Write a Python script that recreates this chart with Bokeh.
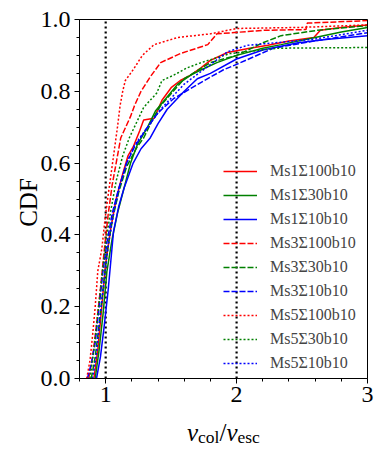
import math
from bokeh.plotting import figure
from bokeh.models import (Label, SingleIntervalTicker, FixedTicker, Range1d, Legend,
                          CustomJSTickFormatter, LinearAxis)
from bokeh.embed import file_html
from bokeh.resources import INLINE

# ---- data ----
names = ["Ms1Σ100b10", "Ms1Σ30b10", "Ms1Σ10b10",
         "Ms3Σ100b10", "Ms3Σ30b10", "Ms3Σ10b10",
         "Ms5Σ100b10", "Ms5Σ30b10", "Ms5Σ10b10"]

ms1_100_x = [0.91, 0.94, 0.97, 1.00, 1.04, 1.08, 1.13, 1.17, 1.21, 1.26, 1.29, 1.37, 1.43, 1.50, 1.57, 1.65, 1.73, 1.80, 1.93, 2.10, 2.24, 2.40, 2.59, 2.64, 2.80, 3.00]
ms1_100_y = [0.00, 0.08, 0.20, 0.32, 0.42, 0.50, 0.57, 0.62, 0.645, 0.69, 0.72, 0.725, 0.775, 0.81, 0.83, 0.845, 0.866, 0.886, 0.908, 0.92, 0.928, 0.94, 0.95, 0.97, 0.978, 0.985]

ms1_30_x = [0.92, 0.95, 0.98, 1.01, 1.05, 1.09, 1.14, 1.19, 1.24, 1.32, 1.38, 1.46, 1.55, 1.65, 1.73, 1.85, 2.00, 2.20, 2.34, 2.60, 2.80, 3.00]
ms1_30_y = [0.00, 0.08, 0.18, 0.30, 0.39, 0.46, 0.53, 0.60, 0.65, 0.70, 0.745, 0.78, 0.82, 0.845, 0.86, 0.88, 0.90, 0.92, 0.93, 0.95, 0.965, 0.978]

ms1_10_x = [0.93, 0.96, 0.99, 1.02, 1.04, 1.06, 1.10, 1.14, 1.21, 1.27, 1.34, 1.40, 1.47, 1.60, 1.70, 1.80, 2.00, 2.20, 2.47, 2.70, 3.00]
ms1_10_y = [0.00, 0.06, 0.15, 0.25, 0.33, 0.41, 0.48, 0.53, 0.60, 0.64, 0.67, 0.71, 0.75, 0.80, 0.835, 0.85, 0.89, 0.915, 0.935, 0.945, 0.955]

ms3_100_x = [0.87, 0.90, 0.93, 0.96, 0.99, 1.02, 1.05, 1.08, 1.115, 1.19, 1.22, 1.27, 1.34, 1.42, 1.57, 1.78, 1.85, 2.21, 2.53, 2.54, 3.00]
ms3_100_y = [0.00, 0.06, 0.15, 0.25, 0.36, 0.46, 0.54, 0.60, 0.67, 0.73, 0.76, 0.80, 0.84, 0.88, 0.905, 0.93, 0.96, 0.97, 0.972, 0.99, 0.997]

ms3_30_x = [0.89, 0.92, 0.95, 0.98, 1.01, 1.05, 1.10, 1.16, 1.24, 1.29, 1.37, 1.42, 1.60, 1.80, 2.00, 2.20, 2.34, 2.62, 3.00]
ms3_30_y = [0.00, 0.06, 0.15, 0.25, 0.35, 0.44, 0.52, 0.59, 0.645, 0.67, 0.73, 0.76, 0.835, 0.88, 0.90, 0.935, 0.955, 0.97, 0.983]

ms3_10_x = [0.86, 0.89, 0.92, 0.95, 0.98, 1.01, 1.05, 1.10, 1.16, 1.22, 1.30, 1.40, 1.52, 1.73, 1.90, 2.00, 2.28, 2.59, 3.00]
ms3_10_y = [0.00, 0.04, 0.10, 0.20, 0.30, 0.38, 0.46, 0.53, 0.60, 0.645, 0.69, 0.74, 0.78, 0.825, 0.86, 0.875, 0.92, 0.94, 0.963]

ms5_100_x = [0.855, 0.88, 0.90, 0.92, 0.94, 0.97, 1.00, 1.03, 1.06, 1.09, 1.11, 1.13, 1.15, 1.21, 1.28, 1.37, 1.55, 1.80, 2.00, 2.50, 3.00]
ms5_100_y = [0.00, 0.05, 0.12, 0.20, 0.30, 0.36, 0.46, 0.54, 0.62, 0.70, 0.76, 0.80, 0.83, 0.86, 0.90, 0.93, 0.95, 0.96, 0.975, 0.978, 0.985]

ms5_30_x = [0.88, 0.91, 0.94, 0.97, 1.00, 1.04, 1.08, 1.13, 1.18, 1.29, 1.39, 1.43, 1.52, 1.62, 1.73, 1.95, 2.31, 3.00]
ms5_30_y = [0.00, 0.08, 0.18, 0.28, 0.38, 0.47, 0.55, 0.62, 0.67, 0.755, 0.795, 0.83, 0.845, 0.865, 0.88, 0.905, 0.92, 0.922]

ms5_10_x = [0.90, 0.93, 0.96, 0.99, 1.02, 1.06, 1.11, 1.16, 1.22, 1.32, 1.42, 1.60, 1.93, 2.08, 2.59, 3.00]
ms5_10_y = [0.00, 0.07, 0.18, 0.28, 0.37, 0.46, 0.54, 0.60, 0.65, 0.70, 0.75, 0.82, 0.91, 0.928, 0.945, 0.97]

ref_lines = [1, 2]
x_lim = [0.8, 3.0]
y_lim = [0.0, 1.0]

series_x = [ms1_100_x, ms1_30_x, ms1_10_x, ms3_100_x, ms3_30_x, ms3_10_x, ms5_100_x, ms5_30_x, ms5_10_x]
series_y = [ms1_100_y, ms1_30_y, ms1_10_y, ms3_100_y, ms3_30_y, ms3_10_y, ms5_100_y, ms5_30_y, ms5_10_y]

colors = ["#ff0000", "#008000", "#0000ff"] * 3
dashes = ["solid"] * 3 + ["6 2"] * 3 + ["2 2"] * 3

SERIF = "Liberation Serif"

# ---- layout: the frame covers the whole figure; axes are placed at the data box ----
W, H = 384, 449
box_left, box_right = 79, 367      # pixel position of x_lim inside the figure
box_top, box_bottom = 19, 378      # pixel position of y_lim inside the figure
xs_per_px = (x_lim[1] - x_lim[0]) / (box_right - box_left)
ys_per_px = (y_lim[1] - y_lim[0]) / (box_bottom - box_top)
xr = Range1d(x_lim[0] - box_left * xs_per_px, x_lim[1] + (W - box_right) * xs_per_px)
yr = Range1d(y_lim[0] - (H - box_bottom) * ys_per_px, y_lim[1] + box_top * ys_per_px)

p = figure(width=W, height=H, output_backend="svg", toolbar_location=None,
           x_range=xr, y_range=yr, min_border=0,
           min_border_left=0, min_border_right=0, min_border_top=0, min_border_bottom=0)
p.background_fill_color = "white"
p.border_fill_color = "white"
p.grid.visible = False
p.outline_line_color = None

# vertical reference lines
p.segment(x0=ref_lines, y0=[y_lim[0]] * len(ref_lines), x1=ref_lines, y1=[y_lim[1]] * len(ref_lines),
          line_color="black", line_width=2.2, line_dash="2 3")

items = []
for xs, ys, c, d, n in zip(series_x, series_y, colors, dashes, names):
    r = p.line(xs, ys, line_color=c, line_width=1.5, line_dash=d)
    items.append((n, [r]))

legend = Legend(items=items, location=(223, 76), border_line_alpha=0,
                background_fill_alpha=0, padding=0, margin=0,
                glyph_width=34, glyph_height=20, label_height=20, spacing=4,
                label_standoff=13, label_text_font=SERIF, label_text_font_size="16px")
p.add_layout(legend, "center")

# main axes, fixed at the data box
xa = p.xaxis[0]
ya = p.yaxis[0]
xa.fixed_location = y_lim[0]
ya.fixed_location = x_lim[0]
xa.bounds = tuple(x_lim)
ya.bounds = tuple(y_lim)
xa.ticker = SingleIntervalTicker(interval=1, num_minor_ticks=5)
ya.ticker = SingleIntervalTicker(interval=0.2, num_minor_ticks=4)
ya.formatter = CustomJSTickFormatter(code="return tick.toFixed(1);")
xa.formatter = CustomJSTickFormatter(code="return tick.toFixed(0);")

for ax in (xa, ya):
    ax.axis_line_color = "black"
    ax.major_tick_line_color = "black"
    ax.minor_tick_line_color = "black"
    ax.major_tick_in = 0
    ax.major_tick_out = 5
    ax.minor_tick_in = 0
    ax.minor_tick_out = 3
    ax.major_label_text_font = SERIF
    ax.major_label_text_font_size = "24px"
    ax.major_label_text_color = "black"
xa.major_label_standoff = 3
ya.major_label_standoff = 4

# box edges on top and right
top_ax = LinearAxis(fixed_location=y_lim[1], bounds=tuple(x_lim), ticker=FixedTicker(ticks=[]),
                    axis_line_color="black", major_tick_line_color=None, minor_tick_line_color=None)
right_ax = LinearAxis(fixed_location=x_lim[1], bounds=tuple(y_lim), ticker=FixedTicker(ticks=[]),
                      axis_line_color="black", major_tick_line_color=None, minor_tick_line_color=None)
p.add_layout(top_ax, "above")
p.add_layout(right_ax, "right")

# y-axis title
p.add_layout(Label(x=28, y=247, x_units="screen", y_units="screen", text="CDF", angle=math.pi / 2,
                   text_font=SERIF, text_font_size="25px", text_align="center",
                   text_baseline="alphabetic", text_color="black"))

# x-axis title composed of pieces: v_col / v_esc
parts = [("v", 186.5, 17, "25px", "italic"),
         ("col", 197.6, 13, "17.5px", "normal"),
         ("/", 219.0, 17, "25px", "normal"),
         ("v", 226.0, 17, "25px", "italic"),
         ("esc", 237.0, 13, "17.5px", "normal")]
for txt, sx, sy, fs, st in parts:
    p.add_layout(Label(x=sx, y=sy, x_units="screen", y_units="screen", text=txt,
                       text_font=SERIF, text_font_size=fs, text_font_style=st,
                       text_baseline="alphabetic", text_align="left", text_color="black"))

open("out.html", "w").write(file_html(p, INLINE))
